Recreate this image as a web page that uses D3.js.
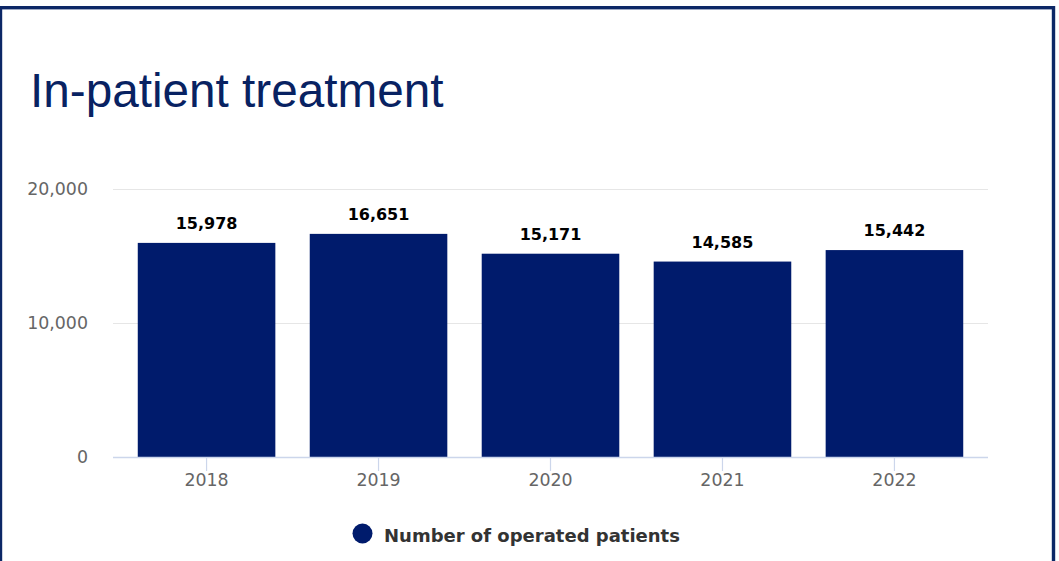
<!DOCTYPE html>
<html>
<head>
<meta charset="utf-8">
<script src="https://cdn.jsdelivr.net/npm/d3@7"></script>
<style>
  html, body { margin: 0; padding: 0; background: #ffffff; }
  svg { display: block; }
</style>
</head>
<body>
<svg id="chart" width="1059" height="561"></svg>
<script>
// Operated in-patients per year
const years = ["2018", "2019", "2020", "2021", "2022"];
const patients = [15978, 16651, 15171, 14585, 15442];
const yTicks = [0, 10000, 20000];
const seriesName = "Number of operated patients";
const titleText = "In-patient treatment";

const W = 1059, H = 561;
const navy = "#001b6c";
const svg = d3.select("#chart");

// frame around the card
svg.append("rect")
  .attr("x", 0.5).attr("y", 7.7)
  .attr("width", 1053).attr("height", 620)
  .attr("fill", "#ffffff")
  .attr("stroke", "#0c2766")
  .attr("stroke-width", 3.4);

svg.append("text")
  .attr("x", 30).attr("y", 107)
  .attr("font-family", "'Liberation Sans', Arial, sans-serif")
  .attr("font-size", 47.7)
  .attr("fill", "#082262")
  .text(titleText);

const x = d3.scaleBand()
  .domain(years)
  .range([113, 988])
  .paddingInner(0.2)
  .paddingOuter(0.144);

const y = d3.scaleLinear()
  .domain([0, 20000])
  .range([457, 189]);

const fmt = d3.format(",");
const font = "'DejaVu Sans', Verdana, sans-serif";

// horizontal grid
const yAxis = d3.axisLeft(y)
  .tickValues(yTicks)
  .tickSize(0)
  .tickPadding(0)
  .tickFormat(fmt);
const gy = svg.append("g").call(yAxis);
gy.select(".domain").remove();
gy.selectAll(".tick line").remove();
gy.selectAll(".tick text")
  .attr("x", 88)
  .attr("dy", "0.34em")
  .attr("font-family", font)
  .attr("font-size", 17.4)
  .attr("fill", "#666666");
gy.selectAll(".tick").filter(d => d !== 0)
  .append("line")
  .attr("x1", 113).attr("x2", 988)
  .attr("stroke", "#e6e6e6").attr("stroke-width", 1.2);

// bars
svg.append("g").selectAll("rect")
  .data(years)
  .join("rect")
  .attr("x", d => x(d))
  .attr("width", x.bandwidth())
  .attr("y", (d, i) => y(patients[i]))
  .attr("height", (d, i) => y(0) - y(patients[i]))
  .attr("fill", navy);

// value labels
svg.append("g").selectAll("text")
  .data(years)
  .join("text")
  .attr("x", d => x(d) + x.bandwidth() / 2)
  .attr("y", (d, i) => y(patients[i]) - 14)
  .attr("text-anchor", "middle")
  .attr("font-family", font)
  .attr("font-weight", "bold")
  .attr("font-size", 16)
  .attr("fill", "#000000")
  .text((d, i) => fmt(patients[i]));

// category axis
const xAxis = d3.axisBottom(x).tickSize(14).tickPadding(3).tickSizeOuter(0);
const gx = svg.append("g").attr("transform", `translate(0,${y(0)})`).call(xAxis);
gx.select(".domain")
  .attr("d", "M113,0.5H988")
  .attr("stroke", "#ccd6eb").attr("stroke-width", 1.5);
gx.selectAll(".tick line").attr("stroke", "#ccd6eb").attr("stroke-width", 1.2);
gx.selectAll(".tick text")
  .attr("font-family", font)
  .attr("font-size", 17.4)
  .attr("fill", "#666666");

// legend
const lg = svg.append("g");
lg.append("circle")
  .attr("cx", 362.5).attr("cy", 533.5).attr("r", 10)
  .attr("fill", navy);
lg.append("text")
  .attr("x", 384).attr("y", 541.5)
  .attr("font-family", font)
  .attr("font-weight", "bold")
  .attr("font-size", 18)
  .attr("fill", "#333333")
  .text(seriesName);
</script>
</body>
</html>
